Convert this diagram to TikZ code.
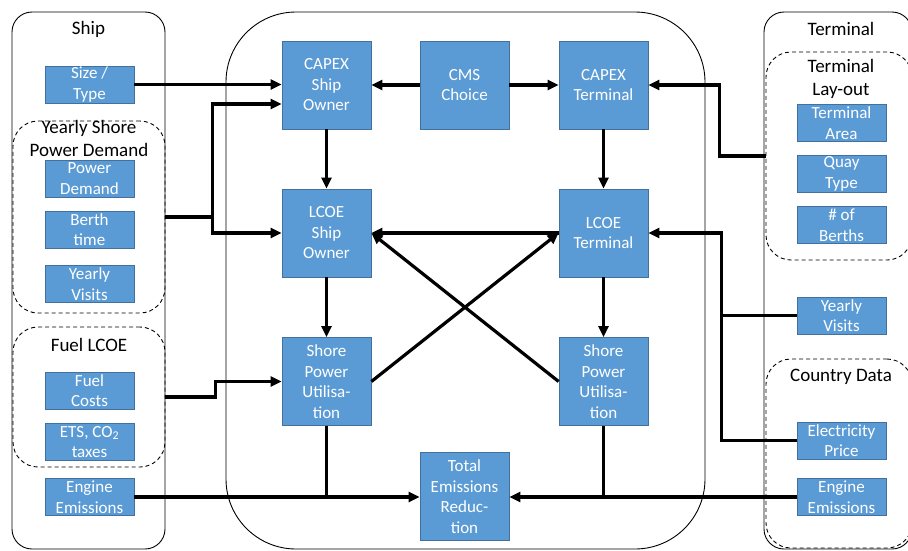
\documentclass[tikz,border=0pt]{standalone}
\usepackage{fontspec}
\setmainfont{Carlito}
\usetikzlibrary{arrows.meta,calc}
\definecolor{boxblue}{HTML}{5B9BD5}
\definecolor{boxedge}{HTML}{41719C}
\begin{document}
\begin{tikzpicture}[x=1pt,y=-1pt,
 box/.style={draw=boxedge, line width=0.8pt, fill=boxblue, text=white, inner sep=0pt, align=center, font=\fontsize{17}{20.5}\selectfont, minimum width=89pt},
 bigbox/.style={box, minimum height=88pt},
 smallbox/.style={box, minimum height=37pt},
 frame/.style={draw, line width=0.9pt, rounded corners=20pt, inner sep=0pt},
 group/.style={frame, dash pattern=on 4pt off 3pt, rounded corners=25pt},
 title/.style={align=center, font=\fontsize{19}{23.5}\selectfont, inner sep=0pt},
 link/.style={line width=3.2pt},
 arr/.style={link, -{Triangle[length=11pt,width=10pt]}}
]
\useasboundingbox (0,0) rectangle (908,550);
\fill[white] (0,0) rectangle (908,550);

% containers
\node[frame, minimum width=153pt, minimum height=537pt] (ship) at (88.5,280.5) {};
\node[group, minimum width=152pt, minimum height=192pt] (ysd) at (89,217) {};
\node[group, minimum width=152pt, minimum height=140pt] (fuel) at (89,397) {};
\node[frame, rounded corners=70pt, minimum width=479pt, minimum height=537pt] (core) at (465.5,280.5) {};
\node[frame, minimum width=148pt, minimum height=537pt] (term) at (838,280.5) {};
\node[group, minimum width=146pt, minimum height=208pt] (tlo) at (839,156) {};
\node[group, minimum width=146pt, minimum height=189pt] (cdata) at (839,453.5) {};

% titles
\node[title] (tship) at (88.5,29) {Ship};
\node[title] (tysd) at (89,138.5) {Yearly Shore\\Power Demand};
\node[title] (tfuel) at (89,345) {Fuel LCOE};
\node[title] (tterm) at (841,29) {Terminal};
\node[title] (ttlo) at (841,79) {Terminal\\Lay-out};
\node[title] (tcd) at (841,377) {Country Data};

% left inputs
\node[smallbox] (size) at (89.5,84.5) {Size /\\Type};
\node[smallbox] (pdem) at (89.5,178.5) {Power\\Demand};
\node[smallbox] (berth) at (89.5,229.5) {Berth\\time};
\node[smallbox] (yvL) at (89.5,284) {Yearly\\Visits};
\node[smallbox] (fcost) at (89.5,390.5) {Fuel\\Costs};
\node[smallbox] (ets) at (89.5,442) {ETS, CO\textsubscript{2}\\taxes};
\node[smallbox] (engL) at (89.5,497) {Engine\\Emissions};

% right inputs
\node[smallbox] (tarea) at (841.5,123) {Terminal\\Area};
\node[smallbox] (quay) at (841.5,174) {Quay\\Type};
\node[smallbox] (nberth) at (841.5,225) {\# of\\Berths};
\node[smallbox] (yvR) at (841.5,315.5) {Yearly\\Visits};
\node[smallbox] (elec) at (841.5,440.5) {Electricity\\Price};
\node[smallbox] (engR) at (841.5,497) {Engine\\Emissions};

% core
\node[bigbox] (capexS) at (326.5,85) {CAPEX\\Ship\\Owner};
\node[bigbox] (cms) at (464.5,85) {CMS\\Choice};
\node[bigbox] (capexT) at (603.5,85) {CAPEX\\Terminal};
\node[bigbox] (lcoeS) at (326.5,233) {LCOE\\Ship\\Owner};
\node[bigbox] (lcoeT) at (603.5,233) {LCOE\\Terminal};
\node[bigbox] (spuS) at (326.5,381.5) {Shore\\Power\\Utilisa-\\tion};
\node[bigbox] (spuT) at (603.5,381.5) {Shore\\Power\\Utilisa-\\tion};
\node[bigbox] (ter) at (464.5,496.5) {Total\\Emissions\\Reduc-\\tion};

% connectors
\draw[arr] (size.east) -- (size.east -| capexS.west);
\draw[arr] (ysd.east) -- ++(47pt,0) |- ([yshift=-19pt]capexS.west);
\draw[arr] (ysd.east) -- ++(47pt,0) |- (lcoeS.west);
\draw[arr] (cms.west) -- (capexS.east);
\draw[arr] (cms.east) -- (capexT.west);
\draw[arr] (capexS.south) -- (lcoeS.north);
\draw[arr] (capexT.south) -- (lcoeT.north);
\draw[arr] (tlo.west) -- ++(-46pt,0) |- (capexT.east);
\draw[arr] (elec.west) -- ++(-75pt,0) |- (lcoeT.east);
\draw[link] (yvR.west) -- ++(-75pt,0);
\draw[arr] (lcoeT.west) -- (lcoeS.east);
\draw[arr] (spuS.east) -- (lcoeT.west);
\draw[arr] (spuT.west) -- (lcoeS.east);
\draw[arr] (lcoeS.south) -- (spuS.north);
\draw[arr] (lcoeT.south) -- (spuT.north);
\draw[arr] (fuel.east) -- ++(50pt,0) |- (spuS.west);
\draw[arr] (engL.east) -- (engL.east -| ter.west);
\draw[link] (spuS.south) -- (spuS.south |- engL.east);
\draw[arr] (engR.west) -- (engR.west -| ter.east);
\draw[link] (spuT.south) -- (spuT.south |- engR.west);
\end{tikzpicture}
\end{document}
